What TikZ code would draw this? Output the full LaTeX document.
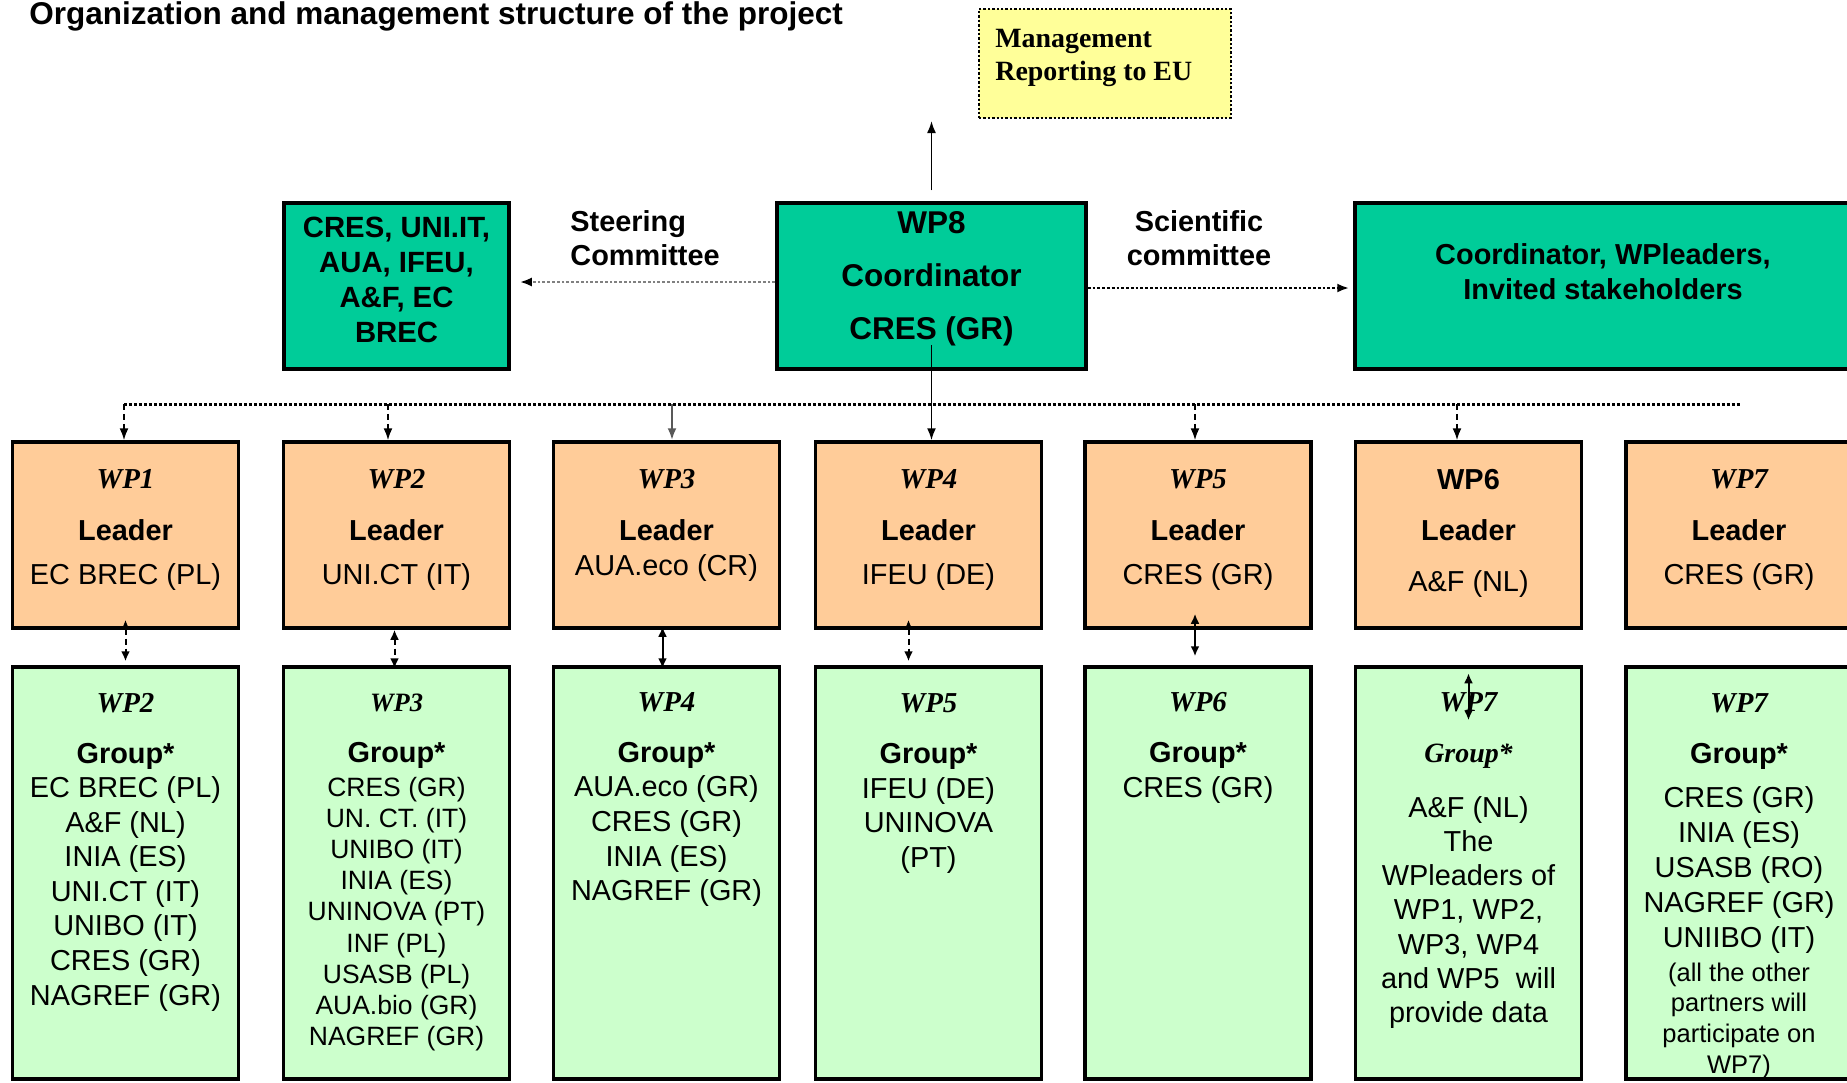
\documentclass[tikz,border=0pt]{standalone}
\usepackage{fontspec}
\setmainfont{Liberation Serif}
\setsansfont{Liberation Sans}
\usetikzlibrary{arrows.meta}
\definecolor{coordteal}{RGB}{0,204,153}
\definecolor{leaderorange}{RGB}{255,204,153}
\definecolor{grouplime}{RGB}{204,255,204}
\definecolor{reportyellow}{RGB}{255,255,153}
\newcommand{\wpname}[1]{{\rmfamily\bfseries\itshape #1}}
\tikzset{
        panel/.style={draw=black, line width=1.75bp, inner sep=0pt},
        teambox/.style={panel, fill=coordteal, minimum height=83bp},
        leaderbox/.style={panel, fill=leaderorange, minimum width=113bp, minimum height=93bp},
        groupbox/.style={panel, fill=grouplime, minimum width=113bp, minimum height=206bp},
        reportbox/.style={draw=black, densely dotted, line width=1.2bp, fill=reportyellow, minimum width=126bp, minimum height=54.5bp},
        txt/.style={inner sep=0pt, align=center},
        teamtxt/.style={txt, font=\sffamily\bfseries\fontsize{14.7}{17.65}\selectfont},
        leadtxt/.style={txt, font=\sffamily\fontsize{14.5}{22}\selectfont},
        grptxt/.style={txt, font=\sffamily\fontsize{14.5}{17.35}\selectfont},
        committxt/.style={inner sep=0pt, font=\sffamily\bfseries\fontsize{14.5}{17}\selectfont},
        tip/.style={-{Latex[length=6bp,width=4.5bp]}},
        pairlink/.style={{Latex[length=5bp,width=4.5bp]}-{Latex[length=5bp,width=4.5bp]}, densely dashed, line width=1bp},
        drop/.style={tip, densely dashed, line width=0.9bp},
        bus/.style={densely dotted, line width=1.5bp}
}

\begin{document}
\begin{tikzpicture}[x=0.5bp, y=-0.5bp]
        \useasboundingbox (0,0) rectangle (1847,1082);
        \node (title) [anchor=base west, inner sep=0pt, font=\sffamily\bfseries\fontsize{15.8}{19}\selectfont] at (29,24.5) {Organization and management structure of the project};
        \node (report) [reportbox] at (1105,63.5) {};
        \node (reporttext) [txt, align=left, anchor=west, font=\rmfamily\bfseries\fontsize{14}{17}\selectfont] at (995,58) {Management\\Reporting to EU};
        \node (steer) [teambox, minimum width=112.5bp] at (396.5,286) {};
        \node (steertext) [teamtxt] at (396.5,280) {CRES, UNI.IT,\\AUA, IFEU,\\A\&F, EC\\BREC};
        \node (wp8) [teambox, minimum width=154.5bp] at (931.5,286) {};
        \node (wp8text) [teamtxt, font=\sffamily\bfseries\fontsize{15.8}{26.75}\selectfont] at (931.5,278.8) {WP8\\Coordinator\\CRES (GR)};
        \node (sci) [teambox, minimum width=262.5bp] at (1617.5,286) {};
        \node (scitext) [teamtxt, font=\sffamily\bfseries\fontsize{14.5}{17.5}\selectfont] at (1603,272) {Coordinator, WPleaders,\\Invited stakeholders};
        \node (steerlabel) [committxt, align=left, anchor=west] at (570,238) {Steering\\Committee};
        \node (scilabel) [committxt, align=center] at (1199,238) {Scientific\\committee};

        \node (b1) [leaderbox] at (125.5,535) {};
        \node (b2) [leaderbox] at (396.5,535) {};
        \node (b3) [leaderbox] at (666.5,535) {};
        \node (b4) [leaderbox] at (928.5,535) {};
        \node (b5) [leaderbox] at (1198,535) {};
        \node (b6) [leaderbox] at (1468.5,535) {};
        \node (b7) [leaderbox] at (1739,535) {};
        \node (l1) [leadtxt] at (125.5,530) {\wpname{WP1}\\[4bp]{\bfseries Leader}\\EC BREC (PL)};
        \node (l2) [leadtxt] at (396.5,530) {\wpname{WP2}\\[4bp]{\bfseries Leader}\\UNI.CT (IT)};
        \node (l3) [leadtxt] at (666.5,525.5) {\wpname{WP3}\\[4bp]{\bfseries Leader}\\[-4.5bp]AUA.eco (CR)};
        \node (l4) [leadtxt] at (928.5,530) {\wpname{WP4}\\[4bp]{\bfseries Leader}\\IFEU (DE)};
        \node (l5) [leadtxt] at (1198,530) {\wpname{WP5}\\[4bp]{\bfseries Leader}\\CRES (GR)};
        \node (l6) [leadtxt] at (1468.5,533.5) {{\bfseries WP6}\\[3.5bp]{\bfseries Leader}\\[4bp]A\&F (NL)};
        \node (l7) [leadtxt] at (1739,530) {\wpname{WP7}\\[4bp]{\bfseries Leader}\\CRES (GR)};

        \node (g1) [groupbox] at (125.5,873) {};
        \node (g2) [groupbox] at (396.5,873) {};
        \node (g3) [groupbox] at (666.5,873) {};
        \node (g4) [groupbox] at (928.5,873) {};
        \node (g5) [groupbox] at (1198,873) {};
        \node (g6) [groupbox] at (1468.5,873) {};
        \node (g7) [groupbox] at (1739,873) {};
        \node (t1) [grptxt] at (125.5,852) {\wpname{WP2}\\[8.15bp]{\bfseries Group*}\\EC BREC (PL)\\A\&F (NL)\\INIA (ES)\\UNI.CT (IT)\\UNIBO (IT)\\CRES (GR)\\NAGREF (GR)};
        \node (t2) [grptxt, font=\sffamily\fontsize{13.3}{15.65}\selectfont] at (396.5,872.4) {\wpname{WP3}\\[9.85bp]{\bfseries\fontsize{14.5}{17}\selectfont Group*}\\[1.4bp]CRES (GR)\\UN. CT. (IT)\\UNIBO (IT)\\INIA (ES)\\UNINOVA (PT)\\INF (PL)\\USASB (PL)\\AUA.bio (GR)\\NAGREF (GR)};
        \node (t3) [grptxt] at (666.5,799.6) {\wpname{WP4}\\[8.15bp]{\bfseries Group*}\\AUA.eco (GR)\\CRES (GR)\\INIA (ES)\\NAGREF (GR)};
        \node (t4) [grptxt] at (928.5,783.5) {\wpname{WP5}\\[8.15bp]{\bfseries Group*}\\IFEU (DE)\\UNINOVA\\(PT)};
        \node (t5) [grptxt] at (1198,748) {\wpname{WP6}\\[8.15bp]{\bfseries Group*}\\CRES (GR)};
        \node (t6) [grptxt, font=\sffamily\fontsize{14.5}{17.1}\selectfont] at (1468.5,860.6) {\wpname{WP7}\\[8.4bp]{\rmfamily\bfseries\itshape\fontsize{14}{17}\selectfont Group*}\\[10.4bp]A\&F (NL)\\The\\WPleaders of\\WP1, WP2,\\WP3, WP4\\and WP5~ will\\provide data};
        \node (t7) [grptxt, font=\sffamily\fontsize{14.5}{17.5}\selectfont] at (1739,886.1) {\wpname{WP7}\\[8bp]{\bfseries Group*}\\[5bp]CRES (GR)\\INIA (ES)\\USASB (RO)\\NAGREF (GR)\\UNIIBO (IT)\\[-0.6bp]{\fontsize{12.8}{15.5}\selectfont (all the other}\\[-2bp]{\fontsize{12.8}{15.5}\selectfont partners will}\\[-2bp]{\fontsize{12.8}{15.5}\selectfont participate on}\\[-2bp]{\fontsize{12.8}{15.5}\selectfont WP7)}};

        \coordinate (reportfoot) at (931.5,121);
        \coordinate (d1) at (124,404);
        \coordinate (d2) at (388,404);
        \coordinate (d3) at (672,404);
        \coordinate (d5) at (1195,404);
        \coordinate (d6) at (1457,404);
        \coordinate (busend) at (1741,404);
        \draw[tip, line width=0.9bp, shorten <=5.5bp] (wp8.north) -- (reportfoot);
        \draw[-{Latex[length=6bp,width=4.5bp,color=black]}, draw=gray, densely dotted, line width=1.4bp, shorten >=4.5bp] ([yshift=2bp]wp8.west) -- ([yshift=2bp]steer.east);
        \draw[tip, densely dotted, line width=1.4bp, shorten >=2bp] ([yshift=-1bp]wp8.east) -- ([yshift=-1bp]sci.west);
        \draw[bus] (d1) -- (busend);
        \draw[drop] (d1) -- (d1 |- b1.north);
        \draw[drop] (d2) -- (d2 |- b2.north);
        \draw[drop, solid, draw=gray!70!black, line width=1.2bp] (d3) -- (d3 |- b3.north);
        \draw[drop, solid] ([yshift=13bp]wp8.south) -- (wp8.south |- b4.north);
        \draw[drop] (d5) -- (d5 |- b5.north);
        \draw[drop] (d6) -- (d6 |- b6.north);
        \draw[pairlink, shorten <=-5bp, shorten >=2bp] (b1.south) -- (g1.north);
        \draw[pairlink, shorten <=0bp, shorten >=-1.5bp] ([xshift=-1bp]b2.south) -- ([xshift=-1bp]g2.north);
        \draw[pairlink, solid, shorten <=-1.5bp, shorten >=-1.5bp] ([xshift=-2bp]b3.south) -- ([xshift=-2bp]g3.north);
        \draw[pairlink, shorten <=-5bp, shorten >=2bp] ([xshift=-10bp]b4.south) -- ([xshift=-10bp]g4.north);
        \draw[pairlink, solid, shorten <=-8bp, shorten >=4.5bp] ([xshift=-1.5bp]b5.south) -- ([xshift=-1.5bp]g5.north);
        \draw[pairlink, solid] ([yshift=-4bp]g6.north) -- ([yshift=-27.5bp]g6.north);
\end{tikzpicture}
\end{document}
